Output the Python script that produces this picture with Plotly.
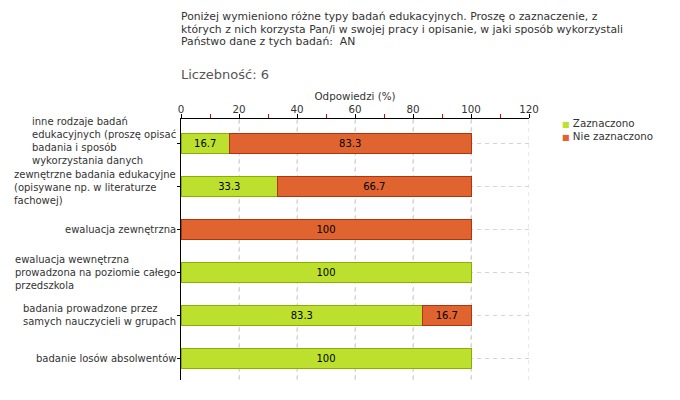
import plotly.graph_objects as go

# ---- data ----
categories = [
    "inne rodzaje badań<br>edukacyjnych (proszę opisać<br>badania i sposób<br>wykorzystania danych",
    "zewnętrzne badania edukacyjne<br>(opisywane np. w literaturze<br>fachowej)",
    "ewaluacja zewnętrzna",
    "ewaluacja wewnętrzna<br>prowadzona na poziomie całego<br>przedszkola",
    "badania prowadzone przez<br>samych nauczycieli w grupach",
    "badanie losów absolwentów",
]
zaznaczono = [16.7, 33.3, 0, 100, 83.3, 100]
nie_zaznaczono = [83.3, 66.7, 100, 0, 16.7, 0]
series_names = ["Zaznaczono", "Nie zaznaczono"]
x_ticks = [0, 20, 40, 60, 80, 100, 120]
x_minor_ticks = [10, 30, 50, 70, 90, 110]
title_lines = [
    "Poniżej wymieniono różne typy badań edukacyjnych. Proszę o zaznaczenie, z",
    "których z nich korzysta Pan/i w swojej pracy i opisanie, w jaki sposób wykorzystali",
    "Państwo dane z tych badań:  AN",
]
count_label = "Liczebność: 6"
x_title = "Odpowiedzi (%)"

# ---- style ----
FONT = "DejaVu Sans"
GREEN, GREEN_LINE = "#BDE02F", "#8BAF00"
ORANGE, ORANGE_LINE = "#E06430", "#B5330C"
TXT = "#333333"
GRID = "#D4D4D4"

# page body has an 8px margin, so the figure is drawn 8px in from the corner
OFF = 8
W, H = 680 - OFF, 400 - OFF
L, R, T, B = 181 - OFF, 151, 119 - OFF, 20
plot_h = H - T - B
plot_w = W - L - R
label_yshift = [2, -1, 0, 0, 0, 0]


def ypaper(ypix):
    return (H - B - (ypix - OFF)) / plot_h


def xpaper(xpix):
    return ((xpix - OFF) - L) / plot_w


ids = list(range(len(categories)))


def fmt(v):
    return None if v == 0 else f"{v:g}"


series = [
    (series_names[0], zaznaczono, GREEN, GREEN_LINE),
    (series_names[1], nie_zaznaczono, ORANGE, ORANGE_LINE),
]

fig = go.Figure()
# invisible trace that activates the overlay axis carrying the red minor ticks
fig.add_trace(go.Scatter(x=[None], y=[None], xaxis="x2", mode="markers",
                         showlegend=False, hoverinfo="skip"))
for name, vals, col, lcol in series:
    fig.add_trace(go.Bar(
        y=ids, x=[v if v else None for v in vals], orientation="h",
        name=name,
        marker=dict(color=col, line=dict(color=lcol, width=1)),
        text=[fmt(v) for v in vals], textposition="inside",
        insidetextanchor="middle", textangle=0,
        textfont=dict(family=FONT, size=10, color="#000000"),
        showlegend=False, hoverinfo="skip",
    ))

# vertical dashed grid lines at the major ticks (drawn beneath the bars)
shapes = [
    dict(type="line", xref="x", yref="paper", x0=t, x1=t, y0=0, y1=1,
         layer="below", line=dict(color=GRID, width=1, dash="4px,4px"))
    for t in x_ticks[1:]
]

annotations = []
# category labels (left-aligned blocks, right-anchored next to axis)
for i, lab in enumerate(categories):
    annotations.append(dict(
        x=0, xref="paper", xanchor="right", xshift=-3,
        y=i, yref="y", yanchor="middle", yshift=label_yshift[i],
        text=lab, align="left", showarrow=False,
        font=dict(family=FONT, size=10, color=TXT),
    ))
# title lines
for k, line in enumerate(title_lines):
    annotations.append(dict(
        x=0, xref="paper", xanchor="left", xshift=-2,
        y=ypaper(16.5 + k * 12.7), yref="paper", yanchor="middle",
        text=line, showarrow=False, align="left",
        font=dict(family=FONT, size=10.8, color=TXT),
    ))
annotations.append(dict(
    x=0, xref="paper", xanchor="left", xshift=-2,
    y=ypaper(75), yref="paper", yanchor="middle",
    text=count_label, showarrow=False,
    font=dict(family=FONT, size=13, color="#555555"),
))
# legend (compact, like the reference)
for k, (name, vals, col, lcol) in enumerate(series):
    annotations.append(dict(
        x=xpaper(560), xref="paper", xanchor="left",
        y=ypaper(123 + k * 12.5), yref="paper", yanchor="middle",
        text=f"<span style='color:{col};font-size:8px'>■</span> {name}",
        showarrow=False, align="left",
        font=dict(family=FONT, size=10.3, color=TXT),
    ))

fig.update_layout(
    width=W, height=H,
    margin=dict(l=L, r=R, t=T, b=B, pad=0, autoexpand=False),
    paper_bgcolor="white", plot_bgcolor="white",
    barmode="stack", bargap=0.535,
    font=dict(family=FONT, size=10, color=TXT),
    showlegend=False,
    annotations=annotations,
    shapes=shapes,
    xaxis=dict(
        side="top", range=[0, 120], tickmode="linear", tick0=0, dtick=20,
        ticks="outside", ticklen=4, tickcolor="#000000",
        showline=True, linecolor="#000000", linewidth=1,
        showgrid=True, gridcolor=GRID, griddash="4px,4px", gridwidth=1,
        zeroline=False, anchor="y",
        tickfont=dict(family=FONT, size=10.3, color=TXT),
        ticklabelstandoff=-3,
        title=dict(text=x_title, standoff=0,
                   font=dict(family=FONT, size=10.3, color=TXT)),
        fixedrange=True,
    ),
    xaxis2=dict(
        overlaying="x", side="top", anchor="y", range=[0, 120],
        tickvals=x_minor_ticks, showticklabels=False,
        ticks="outside", ticklen=4, tickcolor="#E00000",
        showline=False, showgrid=False, zeroline=False, fixedrange=True,
    ),
    yaxis=dict(
        range=[5.51, -0.56], tickvals=ids, showticklabels=False,
        ticks="outside", ticklen=3, tickcolor="#000000",
        showline=True, linecolor="#000000", linewidth=1,
        showgrid=True, gridcolor=GRID, griddash="4px,4px", gridwidth=1,
        zeroline=False, fixedrange=True,
    ),
)

fig.write_html("out.html")
